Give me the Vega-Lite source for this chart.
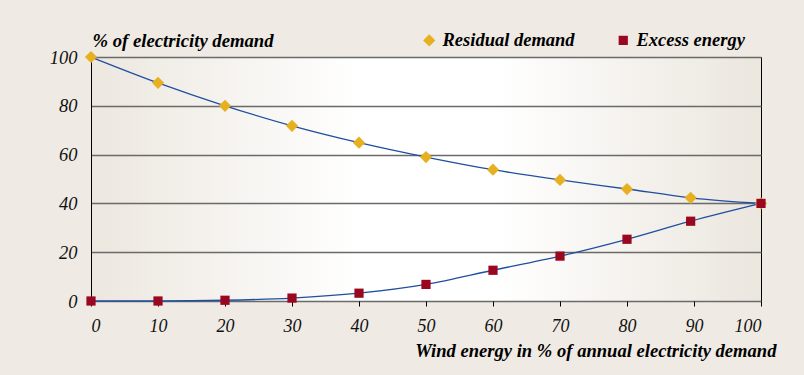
{
  "$schema": "https://vega.github.io/schema/vega-lite/v6.json",
  "width": 670,
  "height": 244,
  "autosize": {"type": "none"},
  "padding": {"left": 91, "top": 57, "right": 43, "bottom": 74},
  "background": "#efebe4",
  "config": {
    "view": {
      "stroke": "#000000",
      "strokeWidth": 1,
      "fill": {
        "gradient": "linear",
        "x1": 0, "y1": 0, "x2": 1, "y2": 0,
        "stops": [
          {"offset": 0, "color": "#ece7df"},
          {"offset": 0.4, "color": "#ffffff"},
          {"offset": 0.6, "color": "#ffffff"},
          {"offset": 1, "color": "#ebe6de"}
        ]
      }
    },
    "font": "Liberation Serif"
  },
  "data": {
    "values": [
      {"wind": 0, "value": 100, "series": "Residual demand"},
      {"wind": 10, "value": 89.4, "series": "Residual demand"},
      {"wind": 20, "value": 80, "series": "Residual demand"},
      {"wind": 30, "value": 71.8, "series": "Residual demand"},
      {"wind": 40, "value": 64.9, "series": "Residual demand"},
      {"wind": 50, "value": 59, "series": "Residual demand"},
      {"wind": 60, "value": 53.8, "series": "Residual demand"},
      {"wind": 70, "value": 49.6, "series": "Residual demand"},
      {"wind": 80, "value": 45.9, "series": "Residual demand"},
      {"wind": 89.5, "value": 42.3, "series": "Residual demand"},
      {"wind": 100, "value": 40, "series": "Residual demand"},
      {"wind": 0, "value": 0, "series": "Excess energy"},
      {"wind": 10, "value": 0, "series": "Excess energy"},
      {"wind": 20, "value": 0.3, "series": "Excess energy"},
      {"wind": 30, "value": 1.2, "series": "Excess energy"},
      {"wind": 40, "value": 3.2, "series": "Excess energy"},
      {"wind": 50, "value": 6.8, "series": "Excess energy"},
      {"wind": 60, "value": 12.6, "series": "Excess energy"},
      {"wind": 70, "value": 18.4, "series": "Excess energy"},
      {"wind": 80, "value": 25.3, "series": "Excess energy"},
      {"wind": 89.5, "value": 32.7, "series": "Excess energy"},
      {"wind": 100, "value": 40, "series": "Excess energy"}
    ]
  },
  "encoding": {
    "x": {
      "field": "wind",
      "type": "quantitative",
      "scale": {"domain": [0, 100], "nice": false},
      "axis": {
        "values": [0, 10, 20, 30, 40, 50, 60, 70, 80, 90, 100],
        "grid": false,
        "domain": false,
        "ticks": true,
        "tickColor": "#000000",
        "tickSize": 5,
        "tickWidth": 1,
        "labelFont": "Liberation Serif",
        "labelFontStyle": "italic",
        "labelFontSize": 18,
        "labelColor": "#111111",
        "labelPadding": 11,
        "title": "Wind energy in % of annual electricity demand",
        "titleFont": "Liberation Serif",
        "titleFontStyle": "italic",
        "titleFontWeight": "bold",
        "titleFontSize": 18.6,
        "titleColor": "#000000",
        "titleAnchor": "end",
        "titleAlign": "right",
        "titleX": 685,
        "titleY": 55,
        "titleBaseline": "alphabetic"
      }
    },
    "y": {
      "field": "value",
      "type": "quantitative",
      "scale": {"domain": [0, 100], "nice": false},
      "axis": {
        "values": [0, 20, 40, 60, 80, 100],
        "grid": true,
        "gridColor": "#6a6a6a",
        "gridWidth": 1.5,
        "domain": true,
        "domainColor": "#000000",
        "domainWidth": 1,
        "ticks": false,
        "labelFont": "Liberation Serif",
        "labelFontStyle": "italic",
        "labelFontSize": 18.5,
        "labelColor": "#111111",
        "labelPadding": 14,
        "title": "% of electricity demand",
        "titleFont": "Liberation Serif",
        "titleFontStyle": "italic",
        "titleFontWeight": "bold",
        "titleFontSize": 18.7,
        "titleColor": "#000000",
        "titleAngle": 0,
        "titleAlign": "left",
        "titleBaseline": "alphabetic",
        "titleX": 1,
        "titleY": -11
      }
    }
  },
  "layer": [
    {
      "mark": {"type": "line", "interpolate": "monotone", "color": "#1f4f9e", "strokeWidth": 1.3},
      "encoding": {"detail": {"field": "series"}}
    },
    {
      "mark": {"type": "point", "filled": true, "opacity": 1},
      "encoding": {
        "color": {
          "field": "series",
          "type": "nominal",
          "scale": {"domain": ["Residual demand", "Excess energy"], "range": ["#e7b020", "#9a0820"]},
          "legend": {
            "title": null,
            "orient": "none",
            "direction": "horizontal",
            "legendX": 329,
            "legendY": -26,
            "symbolSize": 80,
            "labelFont": "Liberation Serif",
            "labelFontStyle": "italic",
            "labelFontWeight": "bold",
            "labelFontSize": 18.5,
            "labelColor": "#000000",
            "columnPadding": 39,
            "labelOffset": 4
          }
        },
        "shape": {
          "field": "series",
          "type": "nominal",
          "scale": {"domain": ["Residual demand", "Excess energy"], "range": ["diamond", "square"]},
          "legend": null
        },
        "size": {
          "field": "series",
          "type": "nominal",
          "scale": {"domain": ["Residual demand", "Excess energy"], "range": [150, 85]},
          "legend": null
        }
      }
    }
  ]
}
